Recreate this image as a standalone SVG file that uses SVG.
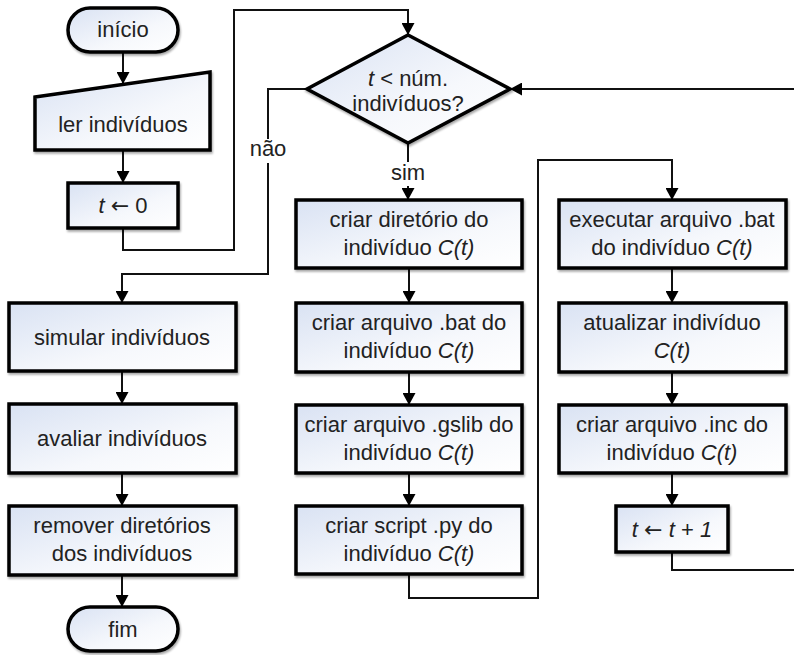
<svg xmlns="http://www.w3.org/2000/svg" width="794" height="655" viewBox="0 0 794 655">
<defs>
<linearGradient id="g" x1="0" y1="0" x2="1" y2="1">
<stop offset="0" stop-color="#d9e2f3"/>
<stop offset="0.6" stop-color="#f6f8fc"/>
<stop offset="1" stop-color="#ffffff"/>
</linearGradient>
<marker id="a" markerWidth="13" markerHeight="13" refX="12" refY="6.5" orient="auto" markerUnits="userSpaceOnUse">
<path d="M0,0 L12,6.5 L0,13 Z" fill="#000"/>
</marker>
<filter id="sh" x="-10%" y="-10%" width="120%" height="130%">
<feGaussianBlur in="SourceAlpha" stdDeviation="1.2"/>
<feOffset dx="1" dy="1.5" result="b"/>
<feComponentTransfer><feFuncA type="linear" slope="0.35"/></feComponentTransfer>
<feMerge><feMergeNode/><feMergeNode in="SourceGraphic"/></feMerge>
</filter>
</defs>
<style>
.n{fill:url(#g);stroke:#000;stroke-width:3.5;filter:url(#sh)}
.c{fill:none;stroke:#111;stroke-width:2}
.ca{fill:none;stroke:#111;stroke-width:2;marker-end:url(#a)}
text{font-family:"Liberation Sans",Arial,sans-serif;font-size:22px;fill:#222;text-anchor:middle}
.i{font-style:italic}
.ar{font-family:"DejaVu Sans",sans-serif;font-style:normal}
.lbl{fill:#fff;stroke:none}
</style>
<rect width="794" height="655" fill="#fff"/>
<g id="connectors">
<path class="ca" d="M123,53 V84"/>
<path class="ca" d="M123,150 V183"/>
<path class="ca" d="M123,228 V250 H234 V10 H408 V35"/>
<path class="ca" d="M307,89 H268 V274 H122 V303"/>
<rect class="lbl" x="248" y="139" width="40" height="24"/>
<path class="ca" d="M408,143 V200"/>
<rect class="lbl" x="390" y="162" width="36" height="24"/>
<path class="ca" d="M409,268 V303"/>
<path class="ca" d="M409,372 V405"/>
<path class="ca" d="M409,473 V506"/>
<path class="ca" d="M409,574 V598 H538 V160 H672 V200"/>
<path class="ca" d="M672,268 V303"/>
<path class="ca" d="M672,372 V405"/>
<path class="ca" d="M672,473 V506"/>
<path class="ca" d="M672,552 V570 H797 V89 H510"/>
<path class="ca" d="M122,371 V404"/>
<path class="ca" d="M122,473 V506"/>
<path class="ca" d="M122,575 V607"/>
<text x="268" y="156">não</text>
<text x="408" y="180">sim</text>
</g>
<g id="inicio"><rect class="n" x="68" y="8" width="110" height="44" rx="22"/><text x="123" y="37">início</text></g>
<g id="ler"><path class="n" d="M35,97 L210,72 L210,150 L35,150 Z"/><text x="123" y="132">ler indivíduos</text></g>
<g id="t0"><rect class="n" x="68" y="183" width="110" height="45"/><text x="123" y="213"><tspan class="i">t</tspan> <tspan class="ar">←</tspan> 0</text></g>
<g id="decisao"><path class="n" d="M408,35 L510,89 L408,143 L307,89 Z"/><text x="408" y="86"><tspan class="i">t</tspan> &lt; núm.</text><text x="408" y="111">indivíduos?</text></g>
<g id="diretorio"><rect class="n" x="296" y="200" width="226" height="68"/><text x="409" y="227">criar diretório do</text><text x="409" y="255">indivíduo <tspan class="i">C(t)</tspan></text></g>
<g id="bat"><rect class="n" x="296" y="303" width="226" height="69"/><text x="409" y="330">criar arquivo .bat do</text><text x="409" y="358">indivíduo <tspan class="i">C(t)</tspan></text></g>
<g id="gslib"><rect class="n" x="296" y="405" width="226" height="68"/><text x="409" y="432">criar arquivo .gslib do</text><text x="409" y="460">indivíduo <tspan class="i">C(t)</tspan></text></g>
<g id="py"><rect class="n" x="296" y="506" width="226" height="68"/><text x="409" y="533">criar script .py do</text><text x="409" y="561">indivíduo <tspan class="i">C(t)</tspan></text></g>
<g id="executar"><rect class="n" x="559" y="200" width="227" height="68"/><text x="672" y="227">executar arquivo .bat</text><text x="672" y="255">do indivíduo <tspan class="i">C(t)</tspan></text></g>
<g id="atualizar"><rect class="n" x="559" y="303" width="227" height="69"/><text x="672" y="330">atualizar indivíduo</text><text x="672" y="358" class="i">C(t)</text></g>
<g id="inc"><rect class="n" x="559" y="405" width="227" height="68"/><text x="672" y="432">criar arquivo .inc do</text><text x="672" y="460">indivíduo <tspan class="i">C(t)</tspan></text></g>
<g id="t1"><rect class="n" x="616" y="506" width="112" height="46"/><text x="672" y="537"><tspan class="i">t</tspan> <tspan class="ar">←</tspan> <tspan class="i">t</tspan> + <tspan class="i">1</tspan></text></g>
<g id="simular"><rect class="n" x="9" y="303" width="227" height="68"/><text x="122" y="345">simular indivíduos</text></g>
<g id="avaliar"><rect class="n" x="9" y="404" width="227" height="69"/><text x="122" y="446">avaliar indivíduos</text></g>
<g id="remover"><rect class="n" x="9" y="506" width="227" height="69"/><text x="122" y="533">remover diretórios</text><text x="122" y="561">dos indivíduos</text></g>
<g id="fim"><rect class="n" x="68" y="607" width="110" height="44" rx="22"/><text x="123" y="637">fim</text></g>
</svg>
